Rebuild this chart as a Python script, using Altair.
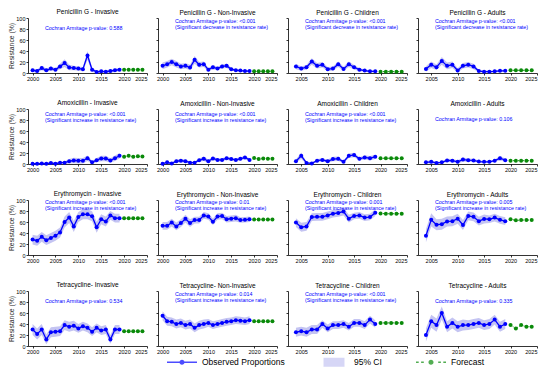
import altair as alt
import pandas as pd

YEARS_ALL = list(range(2000, 2020))
YEARS_LATE = list(range(2004, 2020))
FC_YEARS = [2020, 2021, 2022, 2023, 2024]

# ---------------- Penicillin G
PEN_INV = [5, 3.5, 9, 5, 8, 6, 12, 18, 10, 9, 8, 7, 32, 6, 2, 3, 2.5, 3.5, 5, 6]
PEN_INV_CI = [3, 3, 4, 3, 4, 3, 5, 7, 5, 4, 4, 4, 8, 4, 2, 2, 2, 3, 3, 3]
PEN_INV_FC = [6, 6, 6, 6, 6]
PEN_NON = [13, 16, 20, 16, 12, 13, 10, 24, 15, 16, 6, 10.5, 8, 12, 13, 7, 5, 4.5, 3.5, 3.5]
PEN_NON_CI = [6, 6, 6, 6, 5, 5, 5, 7, 5, 5, 3, 4, 3, 4, 4, 3, 2, 2, 2, 2]
PEN_NON_FC = [3, 3, 3, 3, 3]
PEN_CHI = [12, 8, 10.5, 21, 13, 15, 7, 8, 16, 7.5, 16, 10.5, 6, 4.5, 3, 3]
PEN_CHI_CI = [5, 4, 4, 6, 5, 5, 4, 4, 5, 4, 5, 4, 3, 2, 2, 2]
PEN_CHI_FC = [2.5, 2.5, 2.5, 2.5, 2.5]
PEN_ADU = [7.5, 15, 10.5, 22, 13, 15, 4.5, 13, 15, 12, 3.5, 2.5, 2.5, 3, 4, 4]
PEN_ADU_CI = [5, 6, 5, 7, 6, 6, 4, 5, 5, 5, 2, 2, 2, 2, 2, 2]
PEN_ADU_FC = [5, 5, 5, 5, 5]

# ---------------- Amoxicillin
AMO_INV = [0.5, 0.5, 1, 0.5, 2, 0.5, 2.5, 2.5, 5, 6.5, 6, 6, 10.5, 3, 7, 10, 10, 6.5, 10.5, 15]
AMO_INV_CI = [1, 1, 1, 1, 1, 1, 2, 2, 4, 5, 5, 5, 5, 3, 4, 5, 5, 4, 5, 5]
AMO_INV_FC = [13, 15, 13, 14, 13.5]
AMO_NON = [0.5, 3, 1, 5, 6, 5, 2.5, 2.5, 7, 9.5, 5, 10, 7.5, 7.5, 10.5, 9, 7.5, 9.5, 12, 7.5]
AMO_NON_CI = [1, 2, 1, 3, 3, 3, 2, 2, 3, 4, 3, 3, 3, 3, 3, 3, 3, 3, 3, 3]
AMO_NON_FC = [11, 9, 10, 9.5, 9.5]
AMO_CHI = [5, 15, 2, 1, 6, 7.5, 5, 9, 9.5, 4, 15, 16.5, 9.5, 12, 10.5, 13]
AMO_CHI_CI = [3, 6, 2, 1, 3, 3, 3, 4, 4, 2, 4, 4, 3, 4, 4, 4]
AMO_CHI_FC = [10.5, 10.5, 10.5, 10.5, 10.5]
AMO_ADU = [3, 4, 2, 3, 6.5, 6, 4, 8, 7, 6.5, 4.5, 4, 4, 6, 10.5, 7]
AMO_ADU_CI = [2, 3, 2, 2, 3, 3, 3, 4, 3, 3, 2, 2, 2, 2, 4, 3]
AMO_ADU_FC = [6, 6, 6, 6, 6]

# ---------------- Erythromycin
ERY_INV = [28, 26, 33, 27, 31, 35, 41, 60, 68, 52, 69, 74, 74, 70.5, 50.5, 65, 61, 72, 67, 67]
ERY_INV_CI = [9, 9, 9, 9, 9, 9, 9, 10, 10, 10, 9, 9, 9, 9, 10, 9, 9, 8, 8, 8]
ERY_INV_FC = [67, 67, 67, 67, 67]
ERY_NON = [53, 53, 59, 52, 58, 66, 58, 63.5, 63.5, 72, 70, 60.5, 70, 71, 65, 66, 67, 63.5, 64, 65]
ERY_NON_CI = [7, 7, 7, 7, 7, 7, 7, 6, 6, 6, 6, 6, 6, 6, 6, 6, 6, 5, 5, 5]
ERY_NON_FC = [64.5, 64.5, 64.5, 64.5, 64.5]
ERY_CHI = [59, 50.5, 52, 69, 69.5, 69.5, 72, 75, 76.5, 79, 66, 71, 72, 68, 69, 77]
ERY_CHI_CI = [8, 8, 8, 7, 7, 7, 7, 7, 7, 7, 7, 6, 6, 6, 6, 6]
ERY_CHI_FC = [75.5, 75, 75, 75, 75]
ERY_ADU = [35, 64, 55, 56, 61, 61.5, 66, 54.5, 71, 69.5, 61.5, 65.5, 65, 68, 64, 61.5]
ERY_ADU_CI = [12, 12, 10, 10, 9, 9, 9, 9, 8, 8, 8, 8, 7, 7, 7, 7]
ERY_ADU_FC = [65, 63, 63.5, 63.5, 63.5]

# ---------------- Tetracycline
TET_INV = [30, 22, 30, 12, 25, 26, 27, 38, 35, 37, 32, 36, 33, 26, 33, 28, 30, 12, 30, 30]
TET_INV_CI = [10, 10, 10, 9, 9, 9, 9, 9, 9, 9, 8, 8, 8, 8, 8, 8, 8, 8, 8, 8]
TET_INV_FC = [27, 27, 27, 27, 27]
TET_NON = [55, 45, 44, 40, 42, 38, 40, 33, 38, 40, 42, 38, 40, 42, 44, 45, 47, 46, 45, 47]
TET_NON_CI = [8, 8, 8, 8, 8, 8, 8, 8, 8, 8, 7, 7, 7, 7, 7, 7, 7, 7, 7, 7]
TET_NON_FC = [45, 45, 45, 45, 45]
TET_CHI = [25, 27, 25, 30, 30, 40, 32, 38, 38, 40, 35, 42, 42, 38, 48, 40]
TET_CHI_CI = [8, 8, 8, 8, 8, 7, 7, 7, 7, 7, 7, 7, 7, 7, 7, 7]
TET_CHI_FC = [42, 42, 42, 42, 42]
TET_ADU = [20, 45, 38, 60, 35, 42, 35, 38, 38, 40, 42, 38, 40, 48, 35, 40]
TET_ADU_CI = [12, 12, 12, 12, 10, 10, 10, 10, 9, 9, 9, 9, 9, 9, 9, 9]
TET_ADU_FC = [38, 32, 38, 35, 35]

INC = "(Significant increase in resistance rate)"
DEC = "(Significant decrease in resistance rate)"
CA = "Cochran Armitage p-value: "

PANELS = [
    [
        ("Penicillin G - Invasive", PEN_INV, PEN_INV_CI, PEN_INV_FC, [CA + "0.588"]),
        ("Penicillin G - Non-Invasive", PEN_NON, PEN_NON_CI, PEN_NON_FC, [CA + "<0.001", DEC]),
        ("Penicillin G - Children", PEN_CHI, PEN_CHI_CI, PEN_CHI_FC, [CA + "<0.001", DEC]),
        ("Penicillin G - Adults", PEN_ADU, PEN_ADU_CI, PEN_ADU_FC, [CA + "<0.001", DEC]),
    ],
    [
        ("Amoxicillin - Invasive", AMO_INV, AMO_INV_CI, AMO_INV_FC, [CA + "<0.001", INC]),
        ("Amoxicillin - Non-Invasive", AMO_NON, AMO_NON_CI, AMO_NON_FC, [CA + "<0.001", INC]),
        ("Amoxicillin - Children", AMO_CHI, AMO_CHI_CI, AMO_CHI_FC, [CA + "<0.001", INC]),
        ("Amoxicillin - Adults", AMO_ADU, AMO_ADU_CI, AMO_ADU_FC, [CA + "0.106"]),
    ],
    [
        ("Erythromycin - Invasive", ERY_INV, ERY_INV_CI, ERY_INV_FC, [CA + "<0.001", INC]),
        ("Erythromycin - Non-Invasive", ERY_NON, ERY_NON_CI, ERY_NON_FC, [CA + "0.01", INC]),
        ("Erythromycin - Children", ERY_CHI, ERY_CHI_CI, ERY_CHI_FC, [CA + "0.001", INC]),
        ("Erythromycin - Adults", ERY_ADU, ERY_ADU_CI, ERY_ADU_FC, [CA + "0.005", INC]),
    ],
    [
        ("Tetracycline- Invasive", TET_INV, TET_INV_CI, TET_INV_FC, [CA + "0.534"]),
        ("Tetracycline- Non-Invasive", TET_NON, TET_NON_CI, TET_NON_FC, [CA + "0.014", INC]),
        ("Tetracycline - Children", TET_CHI, TET_CHI_CI, TET_CHI_FC, [CA + "<0.001", INC]),
        ("Tetracycline - Adults", TET_ADU, TET_ADU_CI, TET_ADU_FC, [CA + "0.335"]),
    ],
]

LEGEND_KEYS = ["Observed Proportions", "95% CI", "Forecast"]

BLUE = "#0000ff"
BAND = "#c4c4f2"
GREEN = "#0a8a0a"
FONT = "Liberation Sans"

W, H = 119, 55
NOTE_TOP = [3, 5, 1.5, 3]

DOT = "M-0.17,0A0.17,0.17,0,1,1,0.17,0A0.17,0.17,0,1,1,-0.17,0Z"
P_OBS = "M-1,-0.045H-0.16V0.045H-1ZM0.16,-0.045H1V0.045H0.16Z" + DOT
P_CI = "M-0.7,-0.3H0.7V0.3H-0.7Z"
P_FC = ("M-1,-0.045H-0.82V0.045H-1ZM-0.66,-0.045H-0.48V0.045H-0.66Z"
        "M0.48,-0.045H0.66V0.045H0.48ZM0.82,-0.045H1V0.045H0.82Z" + DOT)


def legend_layer():
    leg = alt.Legend(title=None, orient="none", legendX=139, legendY=329,
                     direction="horizontal", labelFontSize=8.5, labelFont=FONT,
                     labelColor="black", symbolSize=900, symbolStrokeWidth=0,
                     columnPadding=34, labelOffset=5)
    col_scale = alt.Scale(domain=LEGEND_KEYS, range=[BLUE, BAND, GREEN])
    shape_scale = alt.Scale(domain=LEGEND_KEYS, range=[P_OBS, P_CI, P_FC])
    return alt.Chart(pd.DataFrame({"key": LEGEND_KEYS})).mark_point(
        filled=True).encode(
        color=alt.Color("key:N", scale=col_scale, legend=leg),
        shape=alt.Shape("key:N", scale=shape_scale, legend=leg),
        x=alt.value(0), y=alt.value(0),
    ).transform_filter("false")


def panel(r, c, title, obs, ci, fc, note):
    yrs = YEARS_ALL if c < 2 else YEARS_LATE
    dom = [1999, 2025] if c < 2 else [2002.5, 2025]
    ticks = [2000, 2005, 2010, 2015, 2020, 2025] if c < 2 else [2005, 2010, 2015, 2020, 2025]
    df = pd.DataFrame({
        "year": yrs,
        "value": obs,
        "lo": [max(0, v - h) for v, h in zip(obs, ci)],
        "hi": [min(100, v + h) for v, h in zip(obs, ci)],
    })
    fdf = pd.DataFrame({"year": FC_YEARS, "value": fc})
    xs = alt.Scale(domain=dom, nice=False, zero=False)
    xa = alt.Axis(values=ticks, format="d", title=None)
    ys = alt.Scale(domain=[0, 100], nice=False)
    ya = alt.Axis(values=[0, 20, 40, 60, 80, 100], labels=(c == 0),
                  title="Resistance (%)" if c == 0 else None)
    x = alt.X("year:Q", scale=xs, axis=xa)
    band = alt.Chart(df).mark_area(color=BAND, opacity=1).encode(
        x=x, y=alt.Y("lo:Q", scale=ys, axis=ya), y2="hi:Q")
    line = alt.Chart(df).mark_line(color=BLUE, strokeWidth=1.3).encode(
        x=x, y=alt.Y("value:Q", scale=ys, axis=ya))
    pts = alt.Chart(df).mark_circle(color=BLUE, size=16, opacity=1).encode(
        x=x, y=alt.Y("value:Q", scale=ys, axis=ya))
    fline = alt.Chart(fdf).mark_line(color=GREEN, strokeWidth=1, strokeDash=[1, 1.5]).encode(
        x=x, y=alt.Y("value:Q", scale=ys, axis=ya))
    fpts = alt.Chart(fdf).mark_circle(color=GREEN, size=16, opacity=1).encode(
        x=x, y=alt.Y("value:Q", scale=ys, axis=ya))
    ny = 10 if len(note) == 1 else NOTE_TOP[r]
    txt = alt.Chart(pd.DataFrame({"t": ["\n".join(note)]})).mark_text(
        align="left", baseline="middle", lineBreak="\n", lineHeight=6.3,
        fontSize=5.3, color=BLUE, font=FONT).encode(
        text="t:N", x=alt.value(17), y=alt.value(ny))
    layers = [band, line, pts, fline, fpts, txt]
    if r == 3 and c == 0:
        layers.append(legend_layer())
    return alt.layer(*layers).properties(
        width=W, height=H,
        title=alt.TitleParams(title, fontSize=6.5, fontWeight="normal", offset=1,
                              anchor="middle", color="black", font=FONT))


panels = [panel(r, c, *p) for r, row in enumerate(PANELS) for c, p in enumerate(row)]

chart = alt.concat(*panels, columns=4, spacing={"row": 36, "column": 11},
                   bounds="flush").properties(
    padding=0
).configure_view(stroke=None).configure_axis(
    labelFontSize=5.5, titleFontSize=6.8, tickSize=2, labelPadding=1, titlePadding=1,
    domainColor="black", tickColor="black", labelColor="black", titleColor="#222",
    grid=False, titleFontWeight="normal", labelFont=FONT, titleFont=FONT,
    domainWidth=0.8, tickWidth=0.8,
)

chart.save("out.html", embed_options={"renderer": "svg", "actions": False})
